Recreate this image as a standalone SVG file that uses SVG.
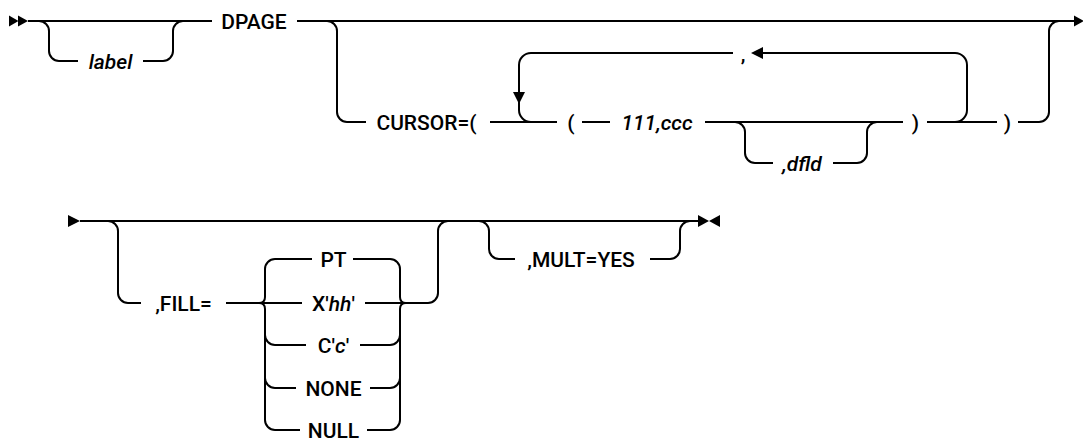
<svg xmlns="http://www.w3.org/2000/svg" width="1083" height="441" viewBox="0 0 1083 441">
<style>
.ln{fill:none;stroke:#000;stroke-width:2}
.ah{fill:#000}
.t{font-family:Roboto,"Liberation Sans",Arial,sans-serif;font-size:21px;font-weight:500;fill:#000;text-anchor:middle}
.i{font-style:italic}
</style>
<rect width="1083" height="441" fill="#fff"/>
<g id="connectors">
<path class="ln" d="M28 21 H212 M297 21 H1074"/>
<path class="ln" d="M39 21 A10 10 0 0 1 49 31 V51 A10 10 0 0 0 59 61 H78 M143 61 H163 A10 10 0 0 0 173 51 V31 A10 10 0 0 1 183 21"/>
<path class="ln" d="M327 21 A10 10 0 0 1 337 31 V112 A10 10 0 0 0 347 122 H366 M490 122 H557 M582 122 H610 M705 122 H903 M927 122 H997 M1018 122 H1039 A10 10 0 0 0 1049 112 V31 A10 10 0 0 1 1059 21"/>
<path class="ln" d="M733 53 H531 A12 12 0 0 0 519 65 V110 A12 12 0 0 0 531 122 M763 53 H955 A12 12 0 0 1 967 65 V110 A12 12 0 0 1 955 122"/>
<path class="ln" d="M735 122 A10 10 0 0 1 745 132 V153 A10 10 0 0 0 755 163 H773 M833 163 H857 A10 10 0 0 0 867 153 V132 A10 10 0 0 1 877 122"/>
<path class="ln" d="M80 221 H698"/>
<path class="ln" d="M108 221 A10 10 0 0 1 118 231 V293 A10 10 0 0 0 128 303 H141 M226 303 H302 M365 303 H428 A10 10 0 0 0 438 293 V231 A10 10 0 0 1 448 221"/>
<path class="ln" d="M312 259 H275 A10 10 0 0 0 265 269 V297 Q265 303 259 303 M259 303 Q265 303 265 309 V420 A10 10 0 0 0 275 430 H300 M265 335 A10 10 0 0 0 275 345 H306 M265 378 A10 10 0 0 0 275 388 H296"/>
<path class="ln" d="M353 259 H390 A10 10 0 0 1 400 269 V297 Q400 303 406 303 M406 303 Q400 303 400 309 V420 A10 10 0 0 1 390 430 H367 M360 345 H390 A10 10 0 0 0 400 335 M370 388 H390 A10 10 0 0 0 400 378"/>
<path class="ln" d="M479 221 A10 10 0 0 1 489 231 V249 A10 10 0 0 0 499 259 H515 M650 259 H670 A10 10 0 0 0 680 249 V231 A10 10 0 0 1 690 221"/>
<polygon class="ah" points="9,15.5 18.5,21 9,26.5"/>
<polygon class="ah" points="18,15.5 28,21 18,26.5"/>
<polygon class="ah" points="1074,15.5 1084,21 1074,26.5"/>
<polygon class="ah" points="513,92 525,92 519,104"/>
<polygon class="ah" points="751,53 763,47 763,59"/>
<polygon class="ah" points="68,215 80,221 68,227"/>
<polygon class="ah" points="698,215 709,221 698,227"/>
<polygon class="ah" points="720,215 709,221 720,227"/>
</g>
<g id="n-label"><text class="t i" x="110.5" y="68.5">label</text></g>
<g id="n-dpage"><text class="t" x="254" y="28.5">DPAGE</text></g>
<g id="n-cursor"><text class="t" x="426.5" y="129.5">CURSOR=(</text></g>
<g id="n-lparen"><text class="t" x="571" y="129.5">(</text></g>
<g id="n-111ccc"><text class="t i" x="657" y="129.5">111,ccc</text></g>
<g id="n-rparen1"><text class="t" x="915.5" y="129.5">)</text></g>
<g id="n-rparen2"><text class="t" x="1007.5" y="129.5">)</text></g>
<g id="n-comma"><text class="t" x="743" y="60.5">,</text></g>
<g id="n-dfld"><text class="t i" x="802" y="170.5">,dfld</text></g>
<g id="n-fill"><text class="t" x="183.5" y="310.5">,FILL=</text></g>
<g id="n-pt"><text class="t" x="333.5" y="266.5">PT</text></g>
<g id="n-xhh"><text class="t" x="333.5" y="310.5">X'<tspan class="i">hh</tspan>'</text></g>
<g id="n-cc"><text class="t" x="333.5" y="352.5">C'<tspan class="i">c</tspan>'</text></g>
<g id="n-none"><text class="t" x="333.5" y="395.5">NONE</text></g>
<g id="n-null"><text class="t" x="333.5" y="437.5">NULL</text></g>
<g id="n-mult"><text class="t" x="581" y="266.5">,MULT=YES</text></g>
</svg>
